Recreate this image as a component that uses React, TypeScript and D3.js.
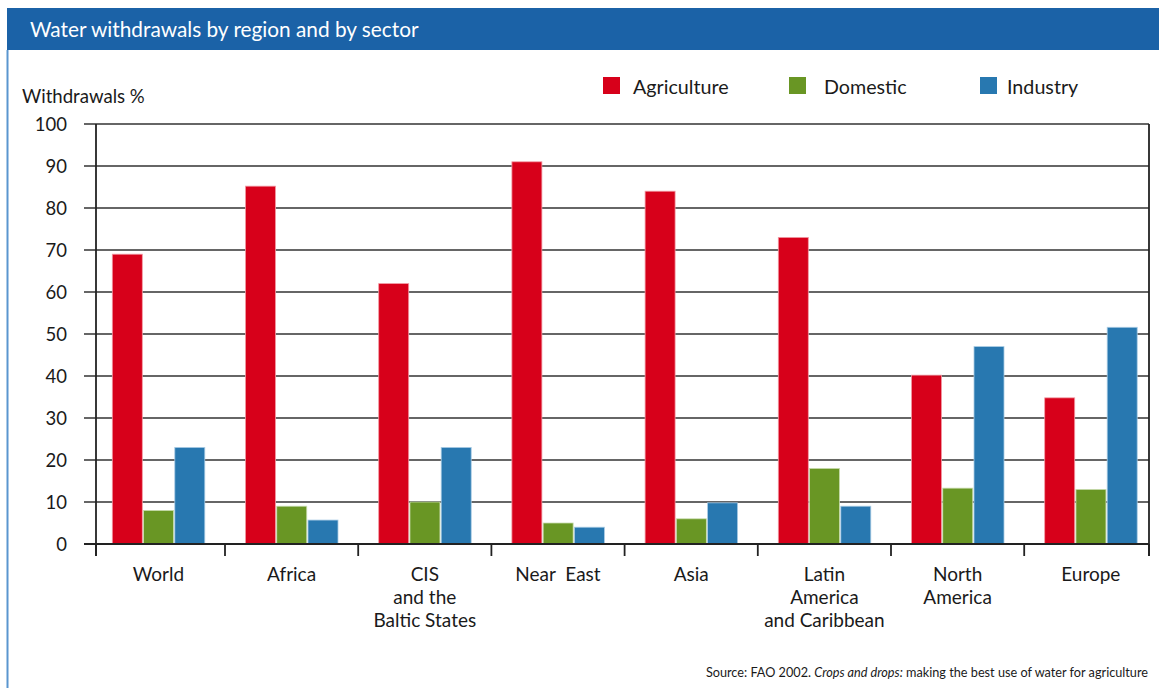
import React from "react";
import * as d3 from "d3";

const categories: string[][] = [
  ["World"],
  ["Africa"],
  ["CIS", "and the", "Baltic States"],
  ["Near  East"],
  ["Asia"],
  ["Latin", "America", "and Caribbean"],
  ["North", "America"],
  ["Europe"],
];
const categoryKeys = ["World", "Africa", "CIS", "Near East", "Asia", "Latin America", "North America", "Europe"];
const seriesNames = ["Agriculture", "Domestic", "Industry"];
const agriculture = [69, 85.2, 62, 91, 84, 73, 40.2, 34.8];
const domestic = [8, 9, 10, 5, 6, 18, 13.3, 13];
const industry = [23, 5.7, 23, 4, 9.8, 9, 47, 51.6];
const seriesValues = [agriculture, domestic, industry];
const seriesColors = ["#d7001a", "#699624", "#2878b0"];
const seriesStrokes = ["#f29aa4", "#c9dcb0", "#a9cbe4"];
const yTicks = [0, 10, 20, 30, 40, 50, 60, 70, 80, 90, 100];

const W = 1159;
const H = 688;
const FONT = "Lato, 'Open Sans', sans-serif";

export default function App() {
  const plotLeft = 96;
  const plotRight = 1149;
  const y = d3.scaleLinear().domain([0, 100]).range([544, 124]);
  const x = d3.scaleBand<string>().domain(categoryKeys).range([91.8, 1157.4]).padding(0);
  const xs = d3.scaleBand<string>().domain(seriesNames).range([20.5, 113]).paddingInner(0.04);
  const boundaries = [plotLeft, ...categoryKeys.slice(1).map((k) => x(k) as number), plotRight];
  const legendSquareX = [603, 789, 980];
  const legendTextX = [633, 824, 1007];

  return (
    <svg width={W} height={H} style={{ position: "absolute", left: 0, top: 0, background: "#fff" }}>
      {/* header */}
      <rect x={7} y={8} width={W - 7} height={42} fill="#1b62a7" />
      <text x={30} y={36.5} fill="#fff" fontFamily={FONT} fontSize={20.8}>
        Water withdrawals by region and by sector
      </text>
      <line x1={7.5} y1={50} x2={7.5} y2={H} stroke="#5a96cf" strokeWidth={2} />

      {/* y label */}
      <text x={22} y={103} fontFamily={FONT} fontSize={18.6} fill="#1a1a1a">
        Withdrawals %
      </text>

      {/* gridlines */}
      {yTicks.map((t) => (
        <g key={t}>
          <line x1={84} x2={plotRight} y1={y(t)} y2={y(t)} stroke="#333" strokeWidth={1.6} />
          <text x={67} y={y(t) + 6.5} textAnchor="end" fontFamily={FONT} fontSize={18.5} fill="#1a1a1a">
            {t}
          </text>
        </g>
      ))}

      {/* bars */}
      {categoryKeys.map((c, ci) => (
        <g key={c} transform={`translate(${x(c)},0)`}>
          {seriesNames.map((s, si) => {
            const v = seriesValues[si][ci];
            return (
              <rect
                key={s}
                x={xs(s)}
                y={y(v)}
                width={xs.bandwidth()}
                height={y(0) - y(v)}
                fill={seriesColors[si]}
                stroke={seriesStrokes[si]}
                strokeWidth={0.8}
              />
            );
          })}
        </g>
      ))}

      {/* frame */}
      <line x1={plotLeft} x2={plotLeft} y1={y(100)} y2={556} stroke="#222" strokeWidth={1.8} />
      <line x1={plotRight} x2={plotRight} y1={y(100)} y2={556} stroke="#222" strokeWidth={1.8} />
      <line x1={84} x2={plotRight} y1={y(0)} y2={y(0)} stroke="#222" strokeWidth={1.8} />
      {boundaries.map((b, i) => (
        <line key={i} x1={b} x2={b} y1={y(0)} y2={556} stroke="#222" strokeWidth={1.8} />
      ))}

      {/* category labels */}
      {categoryKeys.map((c, ci) => (
        <text
          key={c}
          x={(x(c) as number) + x.bandwidth() / 2}
          y={581}
          textAnchor="middle"
          fontFamily={FONT}
          fontSize={19}
          fill="#1a1a1a"
        >
          {categories[ci].map((line, li) => (
            <tspan key={li} x={(x(c) as number) + x.bandwidth() / 2} dy={li === 0 ? 0 : 23} style={{ whiteSpace: "pre" }}>
              {line}
            </tspan>
          ))}
        </text>
      ))}

      {/* legend */}
      {seriesNames.map((s, si) => (
        <g key={s}>
          <rect x={legendSquareX[si]} y={77} width={17} height={17} fill={seriesColors[si]} />
          <text x={legendTextX[si]} y={93.5} fontFamily={FONT} fontSize={19.7} fill="#1a1a1a">
            {s}
          </text>
        </g>
      ))}

      {/* source */}
      <text x={1148} y={677} textAnchor="end" fontFamily={FONT} fontSize={12.7} fill="#1a1a1a">
        Source: FAO 2002. <tspan fontStyle="italic">Crops and drops:</tspan> making the best use of water for agriculture
      </text>
    </svg>
  );
}
